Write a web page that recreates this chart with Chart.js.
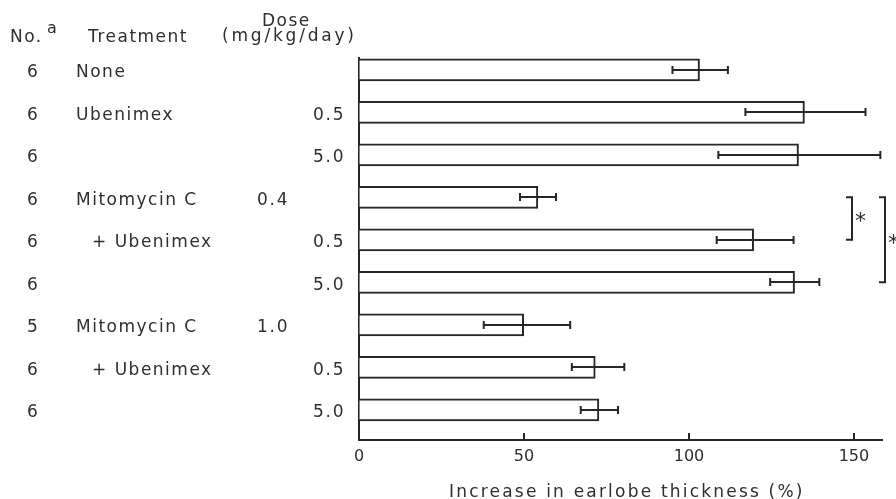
<!DOCTYPE html>
<html>
<head>
<meta charset="utf-8">
<script src="https://cdn.jsdelivr.net/npm/chart.js@4.4.0/dist/chart.umd.min.js"></script>
<style>
  html, body { margin: 0; padding: 0; background: #fff; }
  canvas { display: block; }
</style>
</head>
<body>
<canvas id="chart" width="896" height="499"></canvas>
<script>
// values (% increase in earlobe thickness)
const groupN = ["6", "6", "6", "6", "6", "6", "5", "6", "6"];
const treatments = ["None", "Ubenimex", "", "Mitomycin C", "+ Ubenimex", "", "Mitomycin C", "+ Ubenimex", ""];
const mmcDose = ["", "", "", "0.4", "", "", "1.0", "", ""];
const ubxDose = ["", "0.5", "5.0", "", "0.5", "5.0", "", "0.5", "5.0"];
const means = [103.2, 135.0, 133.2, 54.2, 119.6, 132.0, 49.9, 71.6, 72.7];
const errLow = [95.0, 117.1, 108.9, 48.8, 108.4, 124.6, 37.8, 64.5, 67.2];
const errHigh = [111.8, 153.5, 158.0, 59.7, 131.7, 139.5, 64.0, 80.4, 78.5];
const xTicks = [0, 50, 100, 150];
const sigPairs = [[3, 4], [3, 5]];
const xTitle = "Increase in earlobe thickness (%)";

const INK = "#262626";
const TEXT = "#2e2e2e";
const FONT = "'DejaVu Sans', Verdana, sans-serif";

const sheet = {
    id: "sheet",
    afterDraw(chart) {
        const ctx = chart.ctx;
        const xs = chart.scales.x;
        const ys = chart.scales.y;
        const area = chart.chartArea;

        ctx.save();
        ctx.strokeStyle = INK;
        ctx.lineWidth = 2;

        // inward ticks on the x axis
        for (const t of xs.ticks) {
            if (t.value === 0) continue;
            const px = Math.round(xs.getPixelForValue(t.value));
            ctx.beginPath();
            ctx.moveTo(px, area.bottom);
            ctx.lineTo(px, area.bottom - 7);
            ctx.stroke();
        }

        // error bars
        for (let i = 0; i < means.length; i++) {
            const y = Math.round(ys.getPixelForValue(i));
            const a = xs.getPixelForValue(errLow[i]);
            const b = xs.getPixelForValue(errHigh[i]);
            ctx.beginPath();
            ctx.moveTo(a, y);
            ctx.lineTo(b, y);
            ctx.moveTo(a, y - 4);
            ctx.lineTo(a, y + 4);
            ctx.moveTo(b, y - 4);
            ctx.lineTo(b, y + 4);
            ctx.stroke();
        }

        // significance brackets
        const bx = [area.right - 30, area.right + 3];
        ctx.font = "22px " + FONT;
        ctx.fillStyle = TEXT;
        ctx.textBaseline = "middle";
        sigPairs.forEach((p, k) => {
            const y0 = ys.getPixelForValue(p[0]);
            const y1 = ys.getPixelForValue(p[1]);
            ctx.beginPath();
            ctx.moveTo(bx[k] - 6, y0);
            ctx.lineTo(bx[k], y0);
            ctx.lineTo(bx[k], y1);
            ctx.lineTo(bx[k] - 6, y1);
            ctx.stroke();
            ctx.textAlign = "left";
            ctx.fillText("*", bx[k] + 3, (y0 + y1) / 2 + 4);
        });

        // table on the left
        ctx.textBaseline = "alphabetic";
        ctx.textAlign = "left";
        ctx.font = "17px " + FONT;
        ctx.letterSpacing = "1.5px";
        ctx.fillText("No.", 10, 42);
        ctx.fillText("Treatment", 88, 42);
        ctx.fillText("Dose", 262, 26);
        ctx.letterSpacing = "2.8px";
        ctx.fillText("(mg/kg/day)", 222, 41);
        ctx.letterSpacing = "0px";
        ctx.font = "16px " + FONT;
        ctx.fillText("a", 47, 33);

        ctx.font = "17px " + FONT;
        ctx.letterSpacing = "1.5px";
        for (let i = 0; i < means.length; i++) {
            const y = ys.getPixelForValue(i) + 7.5;
            ctx.fillText(groupN[i], 27, y);
            const name = treatments[i];
            if (name) ctx.fillText(name, name.startsWith("+") ? 92 : 76, y);
            ctx.letterSpacing = "1.8px";
            if (mmcDose[i]) ctx.fillText(mmcDose[i], 257, y);
            if (ubxDose[i]) ctx.fillText(ubxDose[i], 313, y);
            ctx.letterSpacing = "1.5px";
        }

        // axis title
        ctx.letterSpacing = "2.2px";
        ctx.fillText(xTitle, 449, 497);
        ctx.restore();
    }
};

new Chart(document.getElementById("chart"), {
    type: "bar",
    data: {
        datasets: [{
            data: means.map((v, i) => ({ x: v, y: i })),
            backgroundColor: "#ffffff",
            borderColor: INK,
            borderWidth: 2,
            borderSkipped: "start",
            barThickness: 22,
        }]
    },
    options: {
        indexAxis: "y",
        responsive: false,
        devicePixelRatio: 1,
        animation: false,
        layout: { padding: { left: 359, top: 58, right: 14, bottom: 0 } },
        plugins: { legend: { display: false }, tooltip: { enabled: false } },
        scales: {
            x: {
                type: "linear",
                min: 0,
                max: 158.5,
                afterFit: s => { s.height = 59; },
                afterBuildTicks: s => { s.ticks = xTicks.map(v => ({ value: v })); },
                ticks: { color: TEXT, font: { family: FONT, size: 16 }, padding: 7 },
                grid: { drawOnChartArea: false, drawTicks: false },
                border: { color: INK, width: 2 },
            },
            y: {
                type: "linear",
                reverse: true,
                offset: false,
                min: -0.28,
                max: 8.71,
                afterFit: s => { s.width = 0; },
                ticks: { display: false },
                grid: { drawOnChartArea: false, drawTicks: false },
                border: { color: INK, width: 2 },
            }
        }
    },
    plugins: [sheet]
});
</script>
</body>
</html>
